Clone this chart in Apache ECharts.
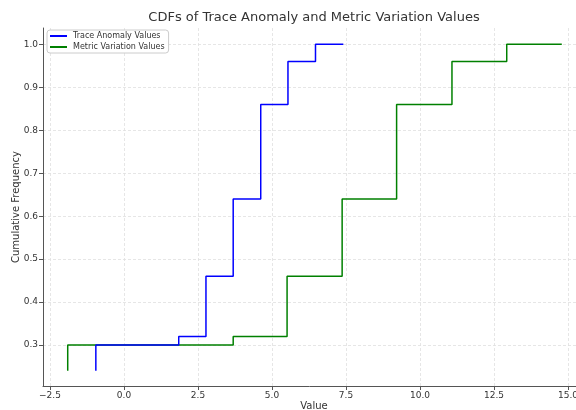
<!DOCTYPE html>
<html>
<head>
<meta charset="utf-8">
<script src="https://cdn.jsdelivr.net/npm/echarts@6/dist/echarts.min.js"></script>
<style>
  html, body { margin: 0; padding: 0; background: #fff; }
  #chart { width: 576px; height: 410px; }
</style>
</head>
<body>
<div id="chart"></div>
<script>
// Empirical CDF step points (value, cumulative frequency)
const traceValues  = [-0.95, 1.85, 2.77, 3.69, 4.62, 5.54, 6.47, 7.41];
const traceCdf     = [0.24, 0.30, 0.32, 0.46, 0.64, 0.86, 0.96, 1.00];
const metricValues = [-1.90, 3.69, 5.51, 7.37, 9.21, 11.08, 12.93, 14.79];
const metricCdf    = [0.24, 0.30, 0.32, 0.46, 0.64, 0.86, 0.96, 1.00];

const xTicks = [-2.5, 0.0, 2.5, 5.0, 7.5, 10.0, 12.5, 15.0];
const yTicks = [0.3, 0.4, 0.5, 0.6, 0.7, 0.8, 0.9, 1.0];

const FONT = 'DejaVu Sans';
const fmt = v => (v < 0 ? '\u2212' : '') + Math.abs(v).toFixed(1);

const zip = (xs, ys) => xs.map((x, i) => [x, ys[i]]);

const chart = echarts.init(document.getElementById('chart'), null, { renderer: 'canvas' });

chart.setOption({
  animation: false,
  backgroundColor: '#ffffff',
  textStyle: { fontFamily: FONT },
  graphic: [{
    type: 'text',
    x: 314, y: 18,
    style: {
      text: 'CDFs of Trace Anomaly and Metric Variation Values',
      font: '13px "DejaVu Sans"',
      fill: '#333333',
      align: 'center',
      verticalAlign: 'middle'
    }
  }],
  grid: { left: 43, right: 0, top: 28, bottom: 24, containLabel: false, outerBoundsMode: 'none' },
  legend: {
    orient: 'vertical',
    left: 47, top: 30,
    icon: 'rect',
    itemWidth: 17, itemHeight: 2,
    itemGap: 3,
    padding: [2, 4, 2, 3],
    backgroundColor: '#ffffff',
    borderColor: '#cccccc',
    borderWidth: 1,
    borderRadius: 3,
    textStyle: { fontFamily: FONT, fontSize: 8, color: '#333333', padding: [0, 0, 0, 1] },
    data: ['Trace Anomaly Values', 'Metric Variation Values']
  },
  xAxis: {
    type: 'value',
    min: -2.735, max: 15.27,
    name: 'Value',
    nameLocation: 'middle',
    nameGap: 15,
    nameMoveOverlap: false,
    nameTextStyle: { fontFamily: FONT, fontSize: 10, color: '#333333', padding: [0, 0, 0, 9] },
    axisLine: { show: true, onZero: false, lineStyle: { color: '#555555', width: 1 } },
    axisTick: { show: true, length: 4, customValues: xTicks, lineStyle: { color: '#555555' } },
    axisLabel: { customValues: xTicks, formatter: fmt, fontFamily: FONT, fontSize: 9, color: '#333333', margin: 5 },
    splitLine: { show: true, customValues: xTicks, lineStyle: { color: '#e0e0e0', type: [3, 2], width: 0.8 } }
  },
  yAxis: {
    type: 'value',
    min: 0.2047, max: 1.038,
    name: 'Cumulative Frequency',
    nameLocation: 'middle',
    nameGap: 22,
    nameMoveOverlap: false,
    nameTextStyle: { fontFamily: FONT, fontSize: 10, color: '#333333' },
    axisLine: { show: true, onZero: false, lineStyle: { color: '#555555', width: 1 } },
    axisTick: { show: true, length: 4, customValues: yTicks, lineStyle: { color: '#555555' } },
    axisLabel: { customValues: yTicks, formatter: v => v.toFixed(1), fontFamily: FONT, fontSize: 9, color: '#333333', margin: 5 },
    splitLine: { show: true, customValues: yTicks, lineStyle: { color: '#e0e0e0', type: [3, 2], width: 0.8 } }
  },
  series: [
    {
      name: 'Trace Anomaly Values',
      type: 'line',
      step: 'start',
      symbol: 'none',
      color: '#0000ff',
      lineStyle: { width: 1.5, color: '#0000ff' },
      data: zip(traceValues, traceCdf),
      z: 3
    },
    {
      name: 'Metric Variation Values',
      type: 'line',
      step: 'start',
      symbol: 'none',
      color: '#008000',
      lineStyle: { width: 1.5, color: '#008000' },
      data: zip(metricValues, metricCdf),
      z: 2
    }
  ]
});
</script>
</body>
</html>
